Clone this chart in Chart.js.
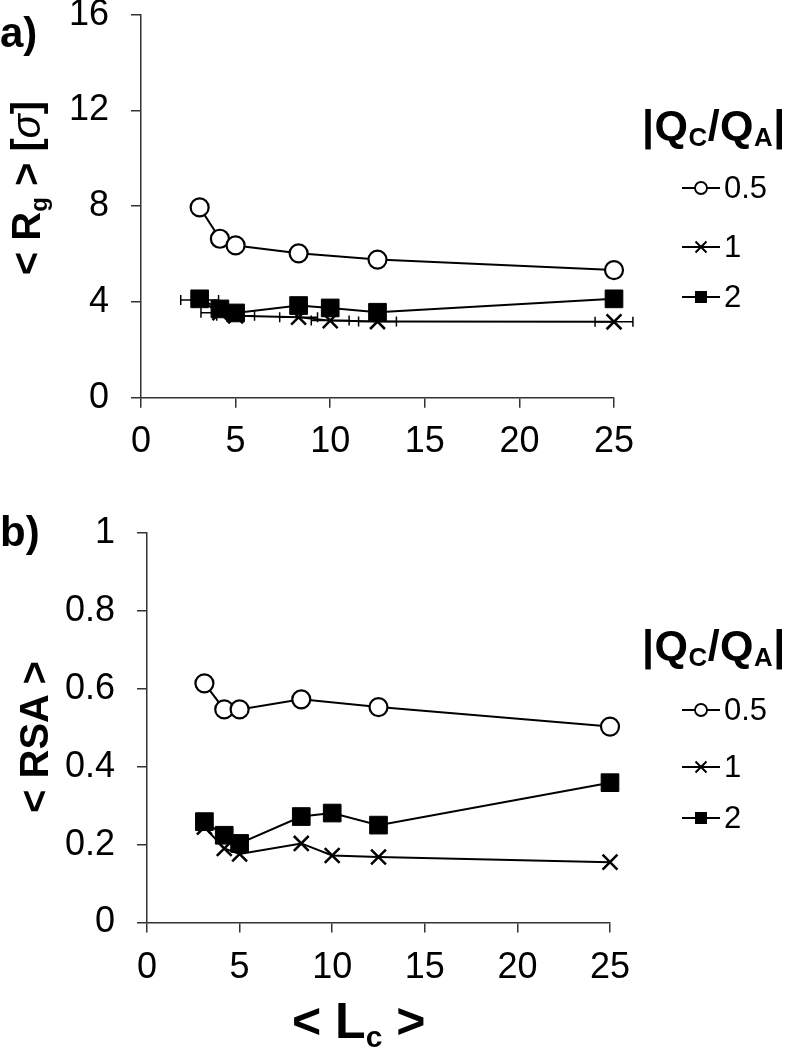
<!DOCTYPE html>
<html>
<head>
<meta charset="utf-8">
<script src="https://cdn.jsdelivr.net/npm/chart.js@4.4.1/dist/chart.umd.min.js"></script>
<style>
  html, body { margin: 0; padding: 0; background: #fff; }
  body { width: 790px; height: 1050px; position: relative; overflow: hidden; font-family: "Liberation Sans", Arial, sans-serif; color: #000; }
  .wrap { position: absolute; left: 0; }
  .lbl { position: absolute; font-weight: bold; white-space: nowrap; line-height: 1; }
  .ytitle { position: absolute; font-weight: bold; white-space: nowrap; line-height: 1; transform: translate(-50%, -50%) rotate(-90deg); }
  .legend { position: absolute; }
  .legend .title { font-weight: bold; font-size: 43px; line-height: 1; white-space: nowrap; position: absolute; left: -3px; top: -6px; letter-spacing: 0.5px; }
  .legend .title sub { font-size: 0.6em; vertical-align: -0.25em; }
  .legend .item { position: absolute; left: 36px; display: flex; align-items: center; font-size: 31px; line-height: 1; white-space: nowrap; }
  .legend .item svg { margin-right: 3px; }
  sub { line-height: 0; }
</style>
</head>
<body>
<div class="wrap" style="top:-40px;width:790px;height:510px;"><canvas id="c1" width="790" height="510"></canvas></div>
<div class="wrap" style="top:470px;width:790px;height:580px;"><canvas id="c2" width="790" height="580"></canvas></div>

<div class="lbl" style="left:0px;top:12px;font-size:42px;">a)</div>
<div class="lbl" style="left:0px;top:511px;font-size:42px;">b)</div>
<div class="ytitle" style="left:26px;top:188px;font-size:40px;">&lt; R<sub style="font-size:0.6em;vertical-align:-0.3em;">g</sub> &gt; [<span style="font-style:italic;font-weight:normal;">σ</span>]</div>
<div class="ytitle" style="left:34px;top:737px;font-size:40px;">&lt; RSA &gt;</div>
<div class="lbl" style="left:292px;top:996px;font-size:50px;">&lt; L<sub style="font-size:0.6em;vertical-align:-0.3em;">c</sub> &gt;</div>

<div class="legend" id="leg1" style="left:645px;top:110px;"></div>
<div class="legend" id="leg2" style="left:645px;top:630px;"></div>

<script>
// ---------------- DATA ----------------
const seriesNames = ["0.5", "1", "2"];
const legendTitle = "|Q<sub>C</sub>/Q<sub>A</sub>|";

// x values <Lc>
const lcCircle = [3.1, 4.17, 5.0, 8.33, 12.5, 25];
const lcOther  = [3.1, 4.17, 5.0, 8.33, 10, 12.5, 25];

// panel a) <Rg> [sigma]
const rgHalf = [7.95, 6.64, 6.36, 6.03, 5.77, 5.33];
const rgOne  = [4.08, 3.55, 3.42, 3.36, 3.22, 3.18, 3.17];
const rgTwo  = [4.13, 3.71, 3.54, 3.85, 3.75, 3.57, 4.13];
const rgOneXErr = [1.0, 1.0, 1.0, 1.0, 1.0, 1.0, 1.0];

// panel b) <RSA>
const rsaHalf = [0.614, 0.547, 0.547, 0.573, 0.553, 0.503];
const rsaOne  = [0.245, 0.19, 0.176, 0.203, 0.172, 0.168, 0.155];
const rsaTwo  = [0.259, 0.224, 0.203, 0.272, 0.281, 0.250, 0.359];

// tick labels
const xTicks = [0, 5, 10, 15, 20, 25];
const yTicksA = [0, 4, 8, 12, 16];
const yTicksB = [0, 0.2, 0.4, 0.6, 0.8, 1];
const yTickLabelsB = ["0", "0.2", "0.4", "0.6", "0.8", "1"];

// ---------------- HELPERS ----------------
const toPts = (xs, ys) => ys.map((y, i) => ({ x: xs[i], y: y }));
const TICK_FONT = { family: "'Liberation Sans', Arial, sans-serif", size: 36 };
const AXIS_COLOR = '#333';

const errorBarPlugin = {
  id: 'xErrorBars',
  beforeDatasetsDraw(chart) {
    const ctx = chart.ctx;
    chart.data.datasets.forEach((ds) => {
      if (!ds.xErr) return;
      const xs = chart.scales.x, ys = chart.scales.y;
      ctx.save();
      ctx.strokeStyle = '#000';
      ctx.lineWidth = 1.5;
      ds.data.forEach((p, i) => {
        const e = ds.xErr[i];
        const x0 = xs.getPixelForValue(p.x - e), x1 = xs.getPixelForValue(p.x + e);
        const y = ys.getPixelForValue(p.y);
        ctx.beginPath();
        ctx.moveTo(x0, y); ctx.lineTo(x1, y);
        ctx.moveTo(x0, y - 5); ctx.lineTo(x0, y + 5);
        ctx.moveTo(x1, y - 5); ctx.lineTo(x1, y + 5);
        ctx.stroke();
      });
      ctx.restore();
    });
  }
};

function makeDatasets(half, one, two, oneErr) {
  return [
    { label: seriesNames[0], data: toPts(lcCircle, half), order: 0, clip: false,
      borderColor: '#000', borderWidth: 2, pointStyle: 'circle', pointRadius: 9,
      pointBorderWidth: 2.2, pointBackgroundColor: '#fff', pointBorderColor: '#000', showLine: true, tension: 0 },
    { label: seriesNames[1], data: toPts(lcOther, one), order: 2, xErr: oneErr, clip: false,
      borderColor: '#000', borderWidth: 2, pointStyle: 'crossRot', pointRadius: 10.5,
      pointBorderWidth: 2.5, pointBorderColor: '#000', showLine: true, tension: 0 },
    { label: seriesNames[2], data: toPts(lcOther, two), order: 1, clip: false,
      borderColor: '#000', borderWidth: 2, pointStyle: 'rect', pointRadius: 12.5,
      pointBorderWidth: 1, pointBackgroundColor: '#000', pointBorderColor: '#000', showLine: true, tension: 0 }
  ];
}

function makeChart(id, datasets, yTicks, yLabels, geo) {
  return new Chart(document.getElementById(id), {
    type: 'scatter',
    data: { datasets },
    plugins: [errorBarPlugin],
    options: {
      responsive: false,
      animation: false,
      devicePixelRatio: 1,
      layout: { padding: { left: 0, right: geo.right, top: geo.top, bottom: 0 } },
      plugins: { legend: { display: false }, tooltip: { enabled: false } },
      scales: {
        x: {
          type: 'linear', min: xTicks[0], max: xTicks[xTicks.length - 1],
          afterBuildTicks: s => { s.ticks = xTicks.map(v => ({ value: v })); },
          afterFit: s => { s.height = geo.xh; },
          grid: { drawOnChartArea: false, drawTicks: true, tickLength: 10, color: AXIS_COLOR, lineWidth: 1.5 },
          border: { display: true, color: AXIS_COLOR, width: 1.5 },
          ticks: { color: '#000', font: TICK_FONT, padding: geo.xpad, maxRotation: 0, autoSkip: false }
        },
        y: {
          type: 'linear', min: yTicks[0], max: yTicks[yTicks.length - 1],
          afterBuildTicks: s => { s.ticks = yTicks.map(v => ({ value: v })); },
          afterFit: s => { s.width = geo.left; },
          grid: { drawOnChartArea: false, drawTicks: true, tickLength: 10, color: AXIS_COLOR, lineWidth: 1.5 },
          border: { display: true, color: AXIS_COLOR, width: 1.5 },
          ticks: { color: '#000', font: TICK_FONT, padding: 22, autoSkip: false,
            callback: (v, i) => yLabels[i] }
        }
      }
    }
  });
}

makeChart('c1', makeDatasets(rgHalf, rgOne, rgTwo, rgOneXErr), yTicksA, yTicksA.map(String),
  { left: 141, right: 790 - 614, top: 54.7, xh: 510 - 437.7, xpad: 13 });
makeChart('c2', makeDatasets(rsaHalf, rsaOne, rsaTwo, null), yTicksB, yTickLabelsB,
  { left: 147, right: 790 - 610, top: 63, xh: 580 - 452.5, xpad: 14 });

// ---------------- LEGENDS ----------------
function icon(kind) {
  let m = '';
  if (kind === 0) m = '<circle cx="20" cy="12" r="6" fill="#fff" stroke="#000" stroke-width="1.8"/>';
  if (kind === 1) m = '<path d="M14.5 6.5 L25.5 17.5 M25.5 6.5 L14.5 17.5" stroke="#000" stroke-width="2"/>';
  if (kind === 2) m = '<rect x="14" y="6" width="12" height="12" fill="#000"/>';
  return '<svg width="40" height="24" viewBox="0 0 40 24"><line x1="1" y1="12" x2="39" y2="12" stroke="#000" stroke-width="2"/>' + m + '</svg>';
}
function buildLegend(id, offsets) {
  const el = document.getElementById(id);
  let html = '<div class="title">' + legendTitle + '</div>';
  seriesNames.forEach((n, i) => {
    html += '<div class="item" style="top:' + offsets[i] + 'px;">' + icon(i) + '<span>' + n + '</span></div>';
  });
  el.innerHTML = html;
}
buildLegend('leg1', [62, 121, 171]);
buildLegend('leg2', [64, 121, 172]);
</script>
</body>
</html>
